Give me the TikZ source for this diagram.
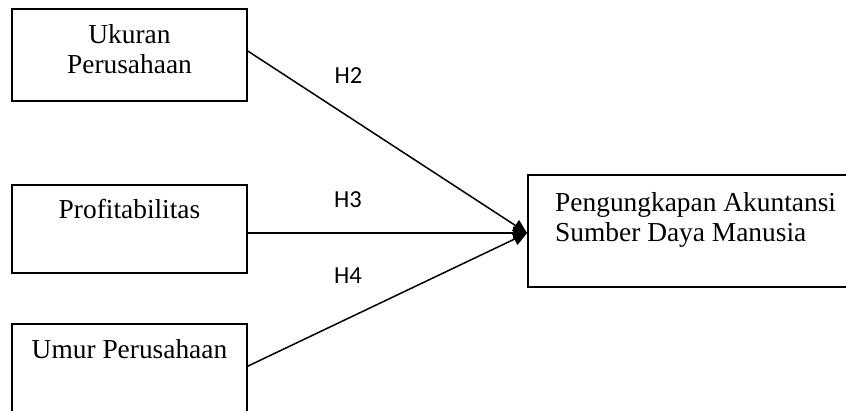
\documentclass[tikz,border=0pt]{standalone}
\usepackage{fontspec}
\setmainfont{Liberation Serif}
\newfontfamily\hfont{Carlito}
\usetikzlibrary{arrows.meta,calc}
\begin{document}
\begin{tikzpicture}[x=1pt,y=-1pt,
  box/.style={draw,line width=1.8pt,inner sep=0pt},
  txt/.style={font=\fontsize{27.4}{30}\selectfont,inner sep=0pt,anchor=base},
  hyp/.style={font=\hfont\fontsize{24.5}{28}\selectfont,inner sep=0pt},
  conn/.style={line width=1.5pt,-{Triangle[length=14pt,width=13pt]}}]
\useasboundingbox (0,0) rectangle (846,411);
\clip (0,0) rectangle (846,411);
% boxes
\node[box,minimum width=235pt,minimum height=92pt] (b1) at (129.5,55) {};
\node[box,minimum width=235pt,minimum height=88pt] (b2) at (129.5,229) {};
\node[box,minimum width=235pt,minimum height=120pt] (b3) at (129.5,384) {};
\node[box,minimum width=332pt,minimum height=112pt] (R) at (694,231) {};
% texts
\node[txt] (t1a) at (129.5,44) {Ukuran};
\node[txt] (t1b) at (129.5,74) {Perusahaan};
\node[txt] (t2) at (129.5,219) {Profitabilitas};
\node[txt] (t3) at (129.5,359) {Umur Perusahaan};
\node[txt,anchor=base west] (tr1) at (555,212) {Pengungkapan Akuntansi};
\node[txt,anchor=base west] (tr2) at (555,242) {Sumber Daya Manusia};
% connector ends
\coordinate (tip) at ($(R.north west)+(0,59)$);
\coordinate (s1) at ($(b1.north east)+(0,43)$);
\coordinate (s2) at ($(b2.north east)+(0,49)$);
\coordinate (s3) at ($(b3.north east)+(0,43)$);
\draw[conn] (s1) -- (tip);
\draw[conn] (s2) -- (tip);
\draw[conn] (s3) -- (tip);
% labels
\node[hyp] (h2) at (348.5,76) {H2};
\node[hyp] (h3) at (348,200) {H3};
\node[hyp] (h4) at (348,276) {H4};
\end{tikzpicture}
\end{document}
